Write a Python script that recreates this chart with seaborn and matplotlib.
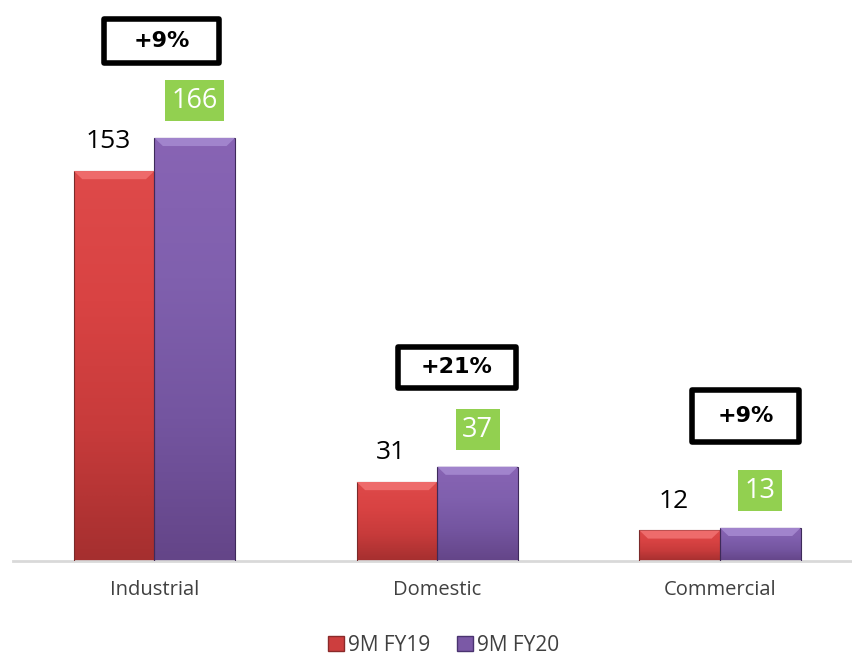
import numpy as np
import pandas as pd
import matplotlib
matplotlib.use("Agg")
import matplotlib.pyplot as plt
import seaborn as sns
from matplotlib.colors import LinearSegmentedColormap
from matplotlib.patches import Patch, Rectangle

categories = ["Industrial", "Domestic", "Commercial"]
fy19 = [153, 31, 12]
fy20 = [166, 37, 13]
series_names = ["9M FY19", "9M FY20"]
growth = ["+9%", "+21%", "+9%"]

df = pd.DataFrame({
    "category": categories * 2,
    "value": fy19 + fy20,
    "series": [series_names[0]] * 3 + [series_names[1]] * 3,
})

sns.set_theme(style="white")
plt.rcParams["font.family"] = ["Open Sans", "DejaVu Sans"]

red = "#CD3E3E"
purple = "#7B59A6"

fig = plt.figure(figsize=(8.53, 6.56), dpi=100)
ax = fig.add_axes([13 / 853, (656 - 561) / 656, 840 / 853, 548 / 656])

sns.barplot(data=df, x="category", y="value", hue="series",
            palette=[red, purple], width=0.57, gap=0.0, dodge=True,
            saturation=1, ax=ax, legend=False, linewidth=0)

# gradient fill on bars
grads = {
    red: LinearSegmentedColormap.from_list("r", ["#A52F2F", "#C73B3B", "#D94343", "#DE4A4A"]),
    purple: LinearSegmentedColormap.from_list("p", ["#644588", "#7455A0", "#8060AE", "#8864B4"]),
}
n = len(categories)
patches = list(ax.patches)
for i, p in enumerate(patches):
    col = red if i < n else purple
    x0, y0 = p.get_x(), p.get_y()
    w, h = p.get_width(), p.get_height()
    grad = np.linspace(0, 1, 256).reshape(-1, 1)
    im = ax.imshow(grad, cmap=grads[col], origin="lower", aspect="auto",
                   extent=[x0, x0 + w, y0, y0 + h], zorder=2, interpolation="bicubic")
    im.set_clip_path(p)
    p.set_edgecolor("#7a2a2a" if col == red else "#3e2a5a")
    p.set_linewidth(0.8)
    p.set_zorder(3)
    p.set_facecolor("none")
    # bevel top strip (trapezoid)
    bw = 0.03
    ax.fill([x0, x0 + w, x0 + w - bw, x0 + bw], [y0 + h, y0 + h, y0 + h - 3.2, y0 + h - 3.2],
            color="#EE6B6B" if col == red else "#A184CC", zorder=3, lw=0)

ax.set_xlim(-0.5, 2.47)
ax.set_ylim(0, 215)

# value labels
for i in range(n):
    pr = patches[i]
    pp = patches[n + i]
    cx = pr.get_x() + pr.get_width() / 2 - 0.02
    ax.text(cx, fy19[i] + 6.5, str(fy19[i]), ha="center", va="bottom",
            fontsize=19, color="black", zorder=5)
    gx = pp.get_x() + pp.get_width() / 2
    ax.text(gx, fy20[i] + 14.5, str(fy20[i]), ha="center", va="center",
            fontsize=19.5, color="white", zorder=5,
            bbox=dict(boxstyle="square,pad=0.24", fc="#92D050", ec="none"))

# growth boxes
box_dx = [0.025, 0.07, 0.09]
box_dy = [38, 39, 44]
box_w = [0.41, 0.42, 0.38]
box_h = [17.2, 16.2, 20.3]
for i in range(n):
    bx = i + box_dx[i]
    by = fy20[i] + box_dy[i]
    ax.add_patch(Rectangle((bx - box_w[i] / 2, by - box_h[i] / 2), box_w[i], box_h[i],
                           fc="white", ec="black", lw=4, zorder=6, clip_on=False,
                           joinstyle="round"))
    ax.text(bx, by, growth[i], ha="center", va="center",
            fontsize=16, fontweight="bold", color="black", zorder=7,
            family=["DejaVu Sans"])

for s in ["top", "right", "left"]:
    ax.spines[s].set_visible(False)
ax.spines["bottom"].set_color("#D9D9D9")
ax.spines["bottom"].set_linewidth(2)
ax.set_yticks([])
ax.set_xlabel("")
ax.set_ylabel("")
ax.tick_params(axis="x", length=0, pad=14, labelsize=14.5, labelcolor="#404040")

# legend
handles = [Patch(facecolor=red, edgecolor="#8a2a2a"), Patch(facecolor=purple, edgecolor="#4a3370")]
fig.legend(handles, series_names, loc="center", bbox_to_anchor=(0.52, 0.0165),
           ncol=2, frameon=False, fontsize=15, handlelength=0.75, handleheight=0.75,
           handletextpad=0.2, columnspacing=1.3, labelcolor="#404040")

fig.savefig("out.png", dpi=100)
